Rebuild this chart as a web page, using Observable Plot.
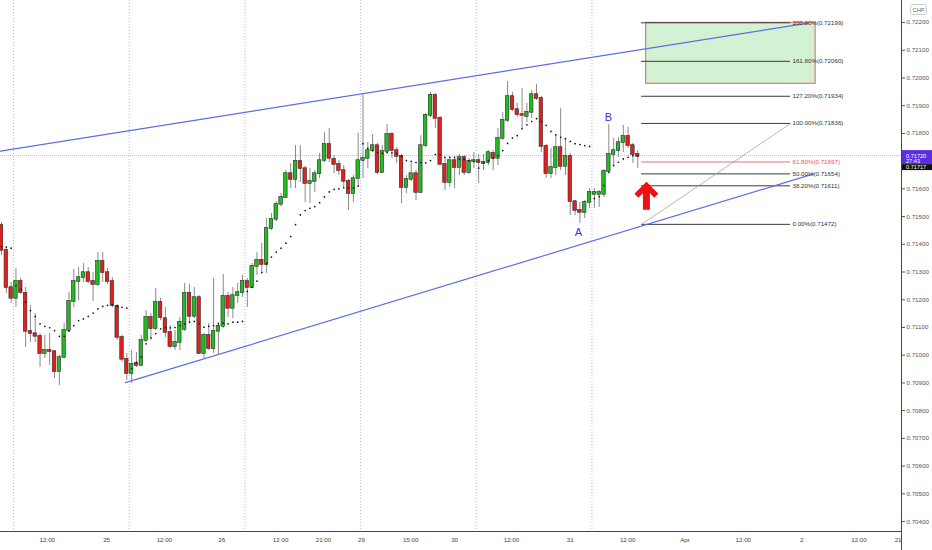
<!DOCTYPE html>
<html><head><meta charset="utf-8">
<script src="https://cdn.jsdelivr.net/npm/d3@7"></script>
<script src="https://cdn.jsdelivr.net/npm/@observablehq/plot@0.6"></script>
<style>
html,body{margin:0;padding:0;background:#fff;}
#chart{width:932px;height:550px;overflow:hidden;}
</style></head><body><div id="chart"></div>
<script>
// ---- hourly candles (index 0..132) ----
const opens = [
0.71468,0.71378,0.71244,0.71205,0.71266,0.71223,0.71086,0.71078,0.71068,0.71006,
0.71017,0.71013,0.70941,0.70992,0.71089,0.71194,0.71266,0.71280,0.71298,0.71266,
0.71255,0.71338,0.71298,0.71266,0.71176,0.71064,0.70985,0.70934,0.70970,0.70963,
0.71053,0.71136,0.71096,0.71190,0.71132,0.71082,0.71031,0.71046,0.71093,0.71223,
0.71140,0.71208,0.71006,0.71071,0.71024,0.71086,0.71104,0.71212,0.71169,0.71215,
0.71226,0.71266,0.71244,0.71320,0.71342,0.71327,0.71457,0.71490,0.71544,0.71569,
0.71655,0.71634,0.71699,0.71673,0.71619,0.71627,0.71655,0.71702,0.71760,0.71706,
0.71688,0.71666,0.71627,0.71583,0.71637,0.71702,0.71710,0.71738,0.71756,0.71659,
0.71735,0.71796,0.71738,0.71717,0.71605,0.71634,0.71655,0.71587,0.71756,0.71865,
0.71937,0.71854,0.71688,0.71623,0.71702,0.71677,0.71713,0.71659,0.71699,0.71702,
0.71691,0.71695,0.71728,0.71710,0.71782,0.71847,0.71933,0.71886,0.71868,0.71861,
0.71876,0.71940,0.71926,0.71753,0.71655,0.71677,0.71749,0.71681,0.71717,0.71554,
0.71522,0.71515,0.71551,0.71580,0.71580,0.71580,0.71663,0.71724,0.71738,0.71767,
0.71789,0.71756,0.71724];
const highs = [
0.71479,0.71388,0.71262,0.71313,0.71277,0.71244,0.71179,0.71150,0.71078,0.71071,
0.71078,0.71017,0.70999,0.71114,0.71226,0.71309,0.71316,0.71331,0.71316,0.71298,
0.71370,0.71370,0.71313,0.71280,0.71183,0.71071,0.71006,0.71017,0.71010,0.71071,
0.71161,0.71150,0.71241,0.71205,0.71172,0.71107,0.71089,0.71136,0.71259,0.71255,
0.71244,0.71215,0.71078,0.71114,0.71277,0.71118,0.71291,0.71226,0.71244,0.71259,
0.71288,0.71277,0.71331,0.71370,0.71403,0.71493,0.71511,0.71554,0.71583,0.71666,
0.71691,0.71756,0.71756,0.71681,0.71673,0.71666,0.71728,0.71803,0.71818,0.71720,
0.71702,0.71684,0.71634,0.71648,0.71800,0.71940,0.71767,0.71796,0.71764,0.71756,
0.71832,0.71803,0.71749,0.71724,0.71648,0.71691,0.71666,0.71792,0.71872,0.71948,
0.71944,0.71861,0.71710,0.71710,0.71713,0.71724,0.71720,0.71710,0.71731,0.71724,
0.71724,0.71738,0.71738,0.71818,0.71875,0.71987,0.71948,0.71908,0.71962,0.71908,
0.71955,0.71976,0.71933,0.71760,0.71746,0.71792,0.71890,0.71782,0.71728,0.71558,
0.71551,0.71558,0.71601,0.71601,0.71594,0.71670,0.71832,0.71782,0.71785,0.71829,
0.71822,0.71764,0.71738];
const lows = [
0.71360,0.71223,0.71187,0.71172,0.71219,0.71028,0.71046,0.71046,0.70956,0.70988,
0.70963,0.70916,0.70891,0.70988,0.71082,0.71172,0.71197,0.71262,0.71259,0.71194,
0.71248,0.71262,0.71255,0.71172,0.71053,0.70974,0.70909,0.70898,0.70956,0.70959,
0.71046,0.71053,0.71089,0.71125,0.71064,0.71024,0.71017,0.71017,0.71086,0.71118,
0.71132,0.71003,0.70988,0.71017,0.71006,0.70999,0.71096,0.71136,0.71132,0.71187,
0.71208,0.71172,0.71241,0.71288,0.71295,0.71295,0.71450,0.71482,0.71536,0.71565,
0.71601,0.71601,0.71623,0.71551,0.71547,0.71587,0.71637,0.71695,0.71695,0.71655,
0.71648,0.71605,0.71522,0.71551,0.71605,0.71637,0.71673,0.71731,0.71652,0.71655,
0.71728,0.71710,0.71691,0.71547,0.71583,0.71627,0.71558,0.71583,0.71749,0.71857,
0.71818,0.71684,0.71594,0.71605,0.71601,0.71648,0.71648,0.71652,0.71673,0.71619,
0.71666,0.71684,0.71666,0.71684,0.71774,0.71839,0.71879,0.71857,0.71818,0.71839,
0.71854,0.71919,0.71731,0.71637,0.71637,0.71648,0.71666,0.71648,0.71504,0.71504,
0.71475,0.71493,0.71529,0.71529,0.71533,0.71569,0.71659,0.71684,0.71713,0.71731,
0.71746,0.71691,0.71673];
const closes = [
0.71378,0.71244,0.71205,0.71266,0.71226,0.71086,0.71078,0.71068,0.71006,0.71017,
0.71013,0.70941,0.70992,0.71089,0.71194,0.71266,0.71280,0.71298,0.71266,0.71255,
0.71338,0.71298,0.71266,0.71179,0.71064,0.70985,0.70934,0.70967,0.70963,0.71053,
0.71136,0.71096,0.71190,0.71136,0.71082,0.71031,0.71046,0.71118,0.71223,0.71140,
0.71208,0.71006,0.71071,0.71024,0.71086,0.71104,0.71212,0.71169,0.71215,0.71226,
0.71266,0.71244,0.71320,0.71342,0.71327,0.71457,0.71490,0.71544,0.71569,0.71655,
0.71634,0.71699,0.71673,0.71619,0.71627,0.71655,0.71702,0.71760,0.71710,0.71688,
0.71666,0.71627,0.71583,0.71637,0.71702,0.71710,0.71738,0.71756,0.71659,0.71735,
0.71796,0.71738,0.71717,0.71605,0.71634,0.71655,0.71587,0.71756,0.71865,0.71937,
0.71854,0.71688,0.71623,0.71702,0.71677,0.71713,0.71659,0.71699,0.71702,0.71695,
0.71695,0.71731,0.71710,0.71782,0.71847,0.71933,0.71886,0.71868,0.71865,0.71876,
0.71940,0.71926,0.71753,0.71655,0.71677,0.71749,0.71681,0.71717,0.71554,0.71522,
0.71515,0.71551,0.71587,0.71587,0.71587,0.71663,0.71724,0.71738,0.71767,0.71789,
0.71756,0.71724,0.71717];
// session average (dotted indicator)
const sessionAvg = [
0.71392,0.71390,0.71386,0.71251,0.71237,0.71191,0.71161,0.71140,0.71113,0.71104,
0.71099,0.71089,0.71068,0.71068,0.71087,0.71107,0.71125,0.71131,0.71140,0.71152,
0.71167,0.71176,0.71180,0.71182,0.71177,0.71173,0.71170,0.70952,0.70974,0.70993,
0.71041,0.71063,0.71078,0.71095,0.71100,0.71099,0.71100,0.71107,0.71113,0.71119,
0.71122,0.71114,0.71101,0.71104,0.71107,0.71113,0.71116,0.71113,0.71119,0.71119,
0.71122,0.71230,0.71245,0.71267,0.71298,0.71331,0.71354,0.71372,0.71386,0.71404,
0.71428,0.71471,0.71506,0.71522,0.71530,0.71536,0.71550,0.71571,0.71589,0.71598,
0.71600,0.71604,0.71604,0.71604,0.71610,0.71763,0.71746,0.71738,0.71731,0.71728,
0.71731,0.71730,0.71728,0.71717,0.71702,0.71699,0.71695,0.71695,0.71694,0.71702,
0.71724,0.71724,0.71714,0.71714,0.71714,0.71708,0.71706,0.71702,0.71699,0.71675,
0.71694,0.71702,0.71710,0.71720,0.71738,0.71764,0.71783,0.71792,0.71817,0.71831,
0.71843,0.71853,0.71843,0.71829,0.71807,0.71795,0.71786,0.71781,0.71771,0.71763,
0.71760,0.71756,0.71753,0.71565,0.71572,0.71612,0.71659,0.71684,0.71696,0.71708,
0.71714,0.71720,0.71720];
const sessionStarts = [3, 27, 51, 75, 99, 123];

// ---- axes ----
const priceTicks = [0.722,0.721,0.720,0.719,0.718,0.716,0.715,0.714,0.713,0.712,0.711,0.710,0.709,0.708,0.707,0.706,0.705,0.704];
const timeTickIdx = [9.5, 21.8, 33.8, 45.7, 57.9, 66.8, 74.7, 84.9, 94, 105.8, 118, 129.9, 141.8, 153.9, 166, 177.9, 186.9];
const timeTickLabels = ["12:00","25","12:00","26","12:00","21:00","29","15:00","30","12:00","31","12:00","Apr","12:00","2","12:00","21:00"];
const currentPrice = 0.71720;
const lastClose = 0.71717;
const countdown = "27:43";
const currency = "CHF";

// ---- drawings ----
const fibLevels = [0, 0.382, 0.5, 0.618, 1, 1.272, 1.618, 2];
const fibPrices = [0.71472, 0.71611, 0.71654, 0.71697, 0.71836, 0.71934, 0.72060, 0.72199];
const fibSpan = [132.8, 163.7];
const fibLabelIdx = 164.1;
const targetBoxIdx = [133.75, 168.9];
const targetBoxPrice = [0.71979, 0.72199];
const upperTrendIdx = [-0.21, 167.4];
const upperTrendPrice = [0.71736, 0.72198];
const lowerTrendIdx = [25.7, 168.5];
const lowerTrendPrice = [0.70901, 0.71654];
const pointLabels = ["A", "B"];
const pointIdx = [119.7, 125.9];
const pointPrice = [0.71443, 0.71859];
const arrowIdx = 133.9;
const arrowTipPrice = 0.71624;

// ---- build tables ----
const candles = opens.map((o, i) => ({i, o, h: highs[i], l: lows[i], c: closes[i], up: closes[i] >= o}));
const avgPts = sessionAvg.map((v, i) => ({i, v}));
const fibs = fibLevels.map((lv, k) => ({lv, p: fibPrices[k],
  label: `${(lv * 100).toFixed(2)}%(${fibPrices[k].toFixed(5)})`}));
const labelMap = new Map(timeTickIdx.map((d, k) => [d, timeTickLabels[k]]));
const points = pointLabels.map((t, k) => ({t, i: pointIdx[k], p: pointPrice[k]}));
const upperLine = upperTrendIdx.map((i, k) => ({i, p: upperTrendPrice[k]}));
const lowerLine = lowerTrendIdx.map((i, k) => ({i, p: lowerTrendPrice[k]}));
const fibDiag = [{i: fibSpan[0], p: fibPrices[0]}, {i: fibSpan[1], p: fibPrices[4]}];

const FONT = "'Liberation Sans', Arial, sans-serif";
const GREEN = "#22bb22", RED = "#e4201c";
const W = 932, H = 550, MR = 31, MB = 19;

function arrowMark(index, scales) {
  const cx = scales.x(arrowIdx), ty = scales.y(arrowTipPrice);
  const pts = [[0,0],[12,12],[8,16],[3.5,11.5],[3.5,28],[-3.5,28],[-3.5,11.5],[-8,16],[-12,12]];
  return d3.create("svg:path")
    .attr("d", "M" + pts.map(([dx, dy]) => `${cx + dx},${ty + dy}`).join("L") + "Z")
    .attr("fill", "#ee1111").node();
}

function overlay(index, scales) {
  const xr = W - MR, yb = H - MB;
  const g = d3.create("svg:g").style("font-family", FONT);
  g.append("rect").attr("x", xr + 0.5).attr("y", yb).attr("width", MR).attr("height", MB).attr("fill", "white");
  g.append("line").attr("x1", 0).attr("x2", xr).attr("y1", yb + 0.5).attr("y2", yb + 0.5).attr("stroke", "#444");
  g.append("line").attr("x1", xr + 0.5).attr("x2", xr + 0.5).attr("y1", 0).attr("y2", H).attr("stroke", "#444");
  const yc = scales.y(currentPrice);
  const box = g.append("g");
  box.append("rect").attr("x", xr + 1).attr("y", yc - 5).attr("width", MR - 1).attr("height", 14).attr("fill", "#5b2ee0");
  box.append("rect").attr("x", xr + 1).attr("y", yc + 9).attr("width", MR - 1).attr("height", 6).attr("fill", "#111");
  const t = (y, s) => box.append("text").attr("x", xr + 5).attr("y", y).attr("fill", "#ffffff")
    .style("font-size", "5.6px").attr("text-anchor", "start").text(s);
  t(yc + 2.7, currentPrice.toFixed(5));
  t(yc + 7.8, countdown);
  t(yc + 13.8, lastClose.toFixed(5));
  g.append("rect").attr("x", xr + 9.5).attr("y", 4.5).attr("width", 16).attr("height", 10).attr("rx", 2)
    .attr("fill", "white").attr("stroke", "#ccc");
  g.append("text").attr("x", xr + 17.5).attr("y", 11.7).attr("text-anchor", "middle").attr("fill", "#666")
    .style("font-size", "5.8px").text(currency);
  return g.node();
}

const chart = Plot.plot({
  width: W, height: H,
  marginLeft: 0, marginRight: MR, marginTop: 0, marginBottom: MB,
  x: {type: "linear", domain: [-0.2075, 186.72], axis: null},
  y: {type: "linear", domain: [0.703641, 0.722794], axis: null},
  style: {background: "white", fontFamily: FONT, fontSize: "6.4px", overflow: "visible"},
  marks: [
    Plot.ruleX(sessionStarts, {x: d => d - 0.5, stroke: "#a8bdf0", strokeDasharray: "1,2", strokeWidth: 1}),
    Plot.ruleY([currentPrice], {stroke: "#c4b4f4", strokeDasharray: "1,1", strokeWidth: 1}),
    Plot.rect([0], {x1: () => targetBoxIdx[0], x2: () => targetBoxIdx[1], y1: () => targetBoxPrice[0], y2: () => targetBoxPrice[1],
      fill: "#d3f2d3", stroke: "#e06060", strokeWidth: 1}),
    Plot.ruleY(fibs, {y: "p", x1: () => fibSpan[0], x2: () => fibSpan[1],
      stroke: d => d.lv === 0.618 ? "#f07070" : "#3a3a3a", strokeWidth: 1}),
    Plot.line(fibDiag, {x: "i", y: "p", stroke: "#9a9a9a", strokeWidth: 0.7}),
    Plot.line(upperLine, {x: "i", y: "p", stroke: "#5b6ee6", strokeWidth: 1.2}),
    Plot.line(lowerLine, {x: "i", y: "p", stroke: "#5b6ee6", strokeWidth: 1.2}),
    Plot.ruleX(candles, {x: "i", y1: "l", y2: "h", stroke: "#8a8a8a", strokeWidth: 1}),
    Plot.rect(candles, {x1: d => d.i - 0.36, x2: d => d.i + 0.36,
      y1: d => Math.min(d.o, d.c) - 0.000012, y2: d => Math.max(d.o, d.c) + 0.000012,
      fill: d => d.up ? GREEN : RED, stroke: "#262626", strokeWidth: 0.6}),
    Plot.dot(avgPts, {x: "i", y: "v", r: 0.85, fill: "#111", stroke: null}),
    Plot.text(fibs, {x: () => fibLabelIdx, y: "p", text: "label", textAnchor: "start",
      fill: d => d.lv === 0.618 ? "#f05050" : "#333", fontSize: 6.2}),
    Plot.text(points, {x: "i", y: "p", text: "t", fill: "#3535d0", fontSize: 11, textAnchor: "middle"}),
    arrowMark,
    Plot.axisY(priceTicks, {anchor: "right", tickSize: 3, tickPadding: 2, tickFormat: d => d.toFixed(5),
      color: "#555", fontSize: 6.2, label: null}),
    Plot.axisX(timeTickIdx, {anchor: "bottom", tickSize: 0, tickPadding: 6, tickFormat: d => labelMap.get(d),
      color: "#444", fontSize: 6.2, label: null}),
    overlay
  ]
});
document.getElementById("chart").appendChild(chart);
</script>
</body></html>
